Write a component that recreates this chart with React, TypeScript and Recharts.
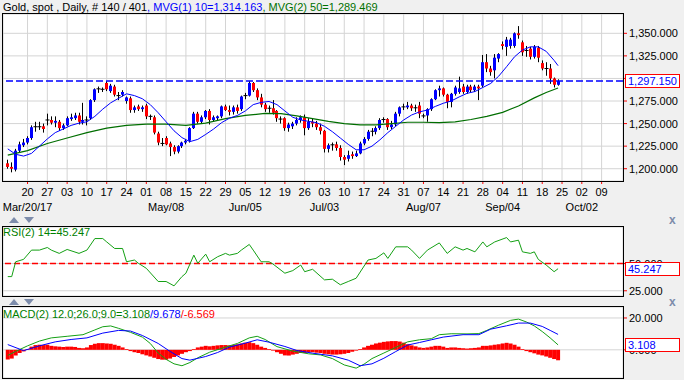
import React from 'react';
import {
  ComposedChart,
  Bar,
  Line,
  XAxis,
  YAxis,
  CartesianGrid,
  ReferenceLine,
} from 'recharts';

// bar index 0 = Mon 20 Mar 2017, one index per weekday
const FIRST_BAR = -5;

const opens = [
  1206, 1202, 1199, 1220, 1226, 1229, 1234, 1246, 1246.5, 1247,
  1253, 1254, 1251, 1252, 1245, 1248, 1255, 1256, 1259, 1252,
  1254, 1256, 1276, 1288, 1288, 1295, 1286, 1291, 1281, 1282,
  1275, 1278, 1265, 1269, 1266, 1270, 1258, 1257, 1239, 1228,
  1234, 1228, 1224, 1219, 1225, 1229, 1231, 1245, 1261, 1252,
  1257, 1264, 1254, 1256, 1258, 1269, 1265, 1263, 1268, 1266,
  1280, 1281, 1295, 1287, 1279, 1271, 1266, 1267, 1264, 1255,
  1256, 1245, 1247, 1250, 1254, 1257, 1245, 1252, 1250, 1246,
  1242, 1222, 1226, 1227, 1223, 1213, 1211, 1216, 1214, 1217,
  1228, 1233, 1241, 1241, 1245, 1254, 1255, 1246, 1249, 1261,
  1268, 1268, 1270, 1267, 1270, 1258, 1259, 1266, 1277, 1287,
  1289, 1282, 1274, 1283, 1285, 1291, 1285, 1291, 1287, 1291,
  1292, 1318, 1311, 1309, 1322, 1338, 1335, 1336, 1336, 1350,
  1340, 1330, 1333, 1324, 1334, 1317, 1311, 1311, 1300, 1293,
];
const highs = [
  1210, 1207, 1222, 1230, 1233, 1236, 1248, 1252, 1252, 1250,
  1261, 1258, 1258, 1254, 1250, 1258, 1261, 1262, 1262, 1273,
  1258, 1277, 1289, 1291, 1290, 1297, 1294, 1293, 1285, 1287,
  1280, 1280, 1270, 1271, 1270, 1272, 1260, 1259, 1241, 1234,
  1236, 1230, 1226, 1226, 1230, 1233, 1246, 1263, 1263, 1259,
  1265, 1266, 1259, 1259, 1270, 1271, 1270, 1270, 1271, 1281,
  1284, 1297, 1296, 1289, 1283, 1273, 1270, 1276, 1265, 1258,
  1257, 1251, 1252, 1257, 1259, 1260, 1256, 1256, 1253, 1250,
  1243, 1228, 1229, 1230, 1226, 1215, 1220, 1219, 1220, 1230,
  1235, 1243, 1245, 1247, 1256, 1257, 1256, 1253, 1263, 1269,
  1272, 1274, 1272, 1271, 1274, 1261, 1267, 1278, 1288, 1292,
  1290, 1283, 1284, 1292, 1302, 1294, 1293, 1293, 1293, 1293,
  1326, 1327, 1314, 1327, 1328, 1341, 1346, 1345, 1351, 1358,
  1342, 1336, 1335, 1337, 1336, 1320, 1318, 1316, 1301, 1299,
];
const lows = [
  1200, 1196, 1197, 1218, 1224, 1227, 1232, 1241, 1243, 1240,
  1248, 1249, 1246, 1242, 1243, 1247, 1253, 1254, 1249, 1249,
  1248, 1254, 1274, 1284, 1285, 1286, 1284, 1280, 1276, 1280,
  1272, 1262, 1262, 1264, 1263, 1255, 1254, 1238, 1226, 1225,
  1226, 1214, 1216, 1217, 1223, 1227, 1229, 1244, 1250, 1250,
  1255, 1249, 1252, 1253, 1256, 1264, 1259, 1260, 1261, 1264,
  1277, 1280, 1285, 1276, 1268, 1263, 1262, 1260, 1252, 1250,
  1242, 1241, 1244, 1248, 1251, 1237, 1243, 1246, 1243, 1238,
  1218, 1218, 1220, 1220, 1209, 1204, 1208, 1211, 1213, 1216,
  1226, 1231, 1236, 1238, 1243, 1251, 1243, 1244, 1247, 1258,
  1265, 1266, 1264, 1263, 1256, 1256, 1252, 1264, 1276, 1280,
  1280, 1267, 1268, 1281, 1283, 1283, 1283, 1285, 1285, 1276,
  1290, 1307, 1303, 1300, 1318, 1332, 1325, 1333, 1334, 1344,
  1325, 1324, 1321, 1322, 1318, 1309, 1303, 1294, 1290, 1292,
];
const closes = [
  1202, 1200, 1220, 1227, 1229, 1234, 1246, 1246.5, 1246, 1244,
  1254, 1251, 1253, 1245, 1248, 1256, 1257, 1259, 1252, 1254,
  1253, 1276, 1288, 1288.5, 1288, 1288, 1292, 1282, 1280.5, 1285,
  1279, 1265, 1268, 1266, 1268, 1258, 1257.5, 1240, 1229, 1227.5,
  1227, 1224, 1219, 1225, 1229, 1231, 1245, 1261, 1252, 1257,
  1264, 1254, 1257, 1258, 1269, 1265, 1263, 1268, 1264, 1280,
  1281, 1295, 1287, 1279, 1271, 1266, 1267, 1262, 1256, 1254,
  1245, 1249, 1250, 1254, 1257, 1245, 1252, 1250, 1246, 1242,
  1222, 1226, 1226.5, 1223, 1213, 1210, 1215, 1214, 1217, 1228,
  1233, 1241, 1241.5, 1245, 1254, 1254.5, 1246, 1249, 1261, 1268,
  1268.5, 1270, 1267, 1267.5, 1261, 1258.5, 1266, 1277, 1287, 1289,
  1282, 1274, 1283, 1290, 1289, 1285, 1291, 1287, 1291, 1289,
  1318, 1311, 1307, 1323, 1327, 1336, 1343, 1343, 1350, 1348,
  1329, 1331, 1324, 1335, 1323, 1311, 1310, 1300, 1293, 1297.15,
];

const ma10Bars = [
  -5, -3, -1, 1, 3, 5, 7, 9, 11, 13, 15, 17, 19, 21, 23, 25, 27, 29, 31, 33,
  35, 37, 39, 41, 43, 45, 47, 49, 51, 53, 55, 57, 59, 61, 63, 65, 67, 69, 71, 73,
  75, 77, 79, 81, 83, 85, 87, 89, 91, 93, 95, 97, 99, 101, 103, 105, 107, 109, 111, 113,
  115, 117, 119, 121, 123, 125, 127, 129, 131, 133, 134,
];
const ma10Values = [
  1222, 1216, 1214, 1217, 1225, 1233, 1240, 1244, 1248, 1250.5, 1252, 1258, 1266, 1273, 1278, 1283, 1281, 1277.5, 1271, 1262,
  1252, 1242, 1234.5, 1230, 1232.5, 1238, 1244, 1251, 1256, 1259, 1264, 1271, 1273.5, 1274.5, 1271, 1264, 1257, 1254, 1252.5, 1251,
  1247, 1241, 1234, 1227, 1221, 1221, 1225, 1232, 1240, 1247, 1254, 1259.5, 1263, 1265, 1269, 1272.5, 1275, 1279.5, 1283.5, 1285.5,
  1290, 1294.5, 1302.5, 1313, 1324, 1331.5, 1335, 1335, 1330, 1320, 1314.163,
];
const ma50Bars = [
  -5, 0, 5, 10, 15, 20, 25, 30, 35, 40, 45, 50, 55, 60, 64, 68, 72, 76, 80, 84,
  88, 92, 96, 100, 104, 108, 112, 116, 120, 124, 128, 131, 134,
];
const ma50Values = [
  1215, 1220, 1228, 1234, 1240, 1245, 1248, 1249.5, 1249.5, 1248, 1250.5, 1255.5, 1259, 1261.3, 1261, 1258.5, 1255.5, 1252.5, 1250, 1248.5,
  1248.5, 1250, 1251.5, 1251.5, 1251, 1252, 1254.5, 1258, 1262.5, 1269.5, 1278.5, 1284.5, 1289.469,
];

const rsiBars = [
  -5, -4, -3, -1, 1, 3, 5, 6, 8, 10, 13, 15, 17, 19, 20, 22, 24, 25, 27, 28,
  30, 33, 35, 37, 39, 40, 42, 43, 45, 46, 48, 50, 51, 53, 54, 56, 57, 59, 61, 62,
  65, 67, 69, 70, 72, 75, 77, 79, 81, 83, 86, 88, 90, 91, 93, 96, 97, 99, 101, 104,
  106, 108, 110, 111, 113, 115, 116, 118, 121, 122, 124, 125, 127, 128, 129, 131, 133, 134,
];
const rsiValues = [
  38, 38, 51.6, 53.8, 62.3, 62.3, 64.7, 62.3, 59.3, 62.9, 59.3, 62.3, 72.9, 72.9, 69.8, 63.8, 63.8, 51.6, 53.2, 50.2,
  45.6, 33.5, 33.5, 29.5, 38, 41.1, 57.7, 50.2, 58.6, 51.6, 56.2, 59.3, 57.7, 59.3, 62.3, 67.5, 62.3, 51.6, 51.6, 49.5,
  41.1, 43.5, 48.6, 42.5, 44.7, 35, 35.6, 30.5, 33.5, 36.5, 53.2, 54.7, 59.8, 54.7, 65.3, 65.3, 62.3, 54.7, 62.3, 68.9,
  59.3, 65.3, 62.3, 63.8, 60.7, 69.8, 65.3, 69.8, 73.8, 69.8, 71.4, 60.7, 59.3, 60.7, 53.8, 48.6, 42.5, 45.247,
];

const macdBars = [
  -5, -3, 0, 3, 6, 10, 14, 17, 19, 21, 23, 26, 29, 31, 33, 35, 37, 39, 41, 43,
  46, 50, 53, 56, 58, 60, 63, 67, 71, 74, 77, 80, 83, 85, 87, 90, 93, 96, 99, 102,
  104, 107, 111, 114, 116, 119, 122, 124, 126, 128, 130, 132, 134,
];
const macdValues = [
  -3.5, -1, 2.5, 5.5, 7.5, 8.5, 9.5, 12.5, 14.5, 15, 13.5, 11, 8, 4, -2, -6, -8.8, -10, -8, -5,
  -1.5, 1.7, 4, 7.5, 8.5, 6.5, 2, -0.8, -2.5, -3.2, -5.5, -9.5, -11.5, -9, -5.5, -2, 1.5, 5, 6.3, 7,
  9.5, 10.1, 10, 10.2, 12.2, 15.5, 18.5, 19.3, 17.5, 15, 11.5, 7.5, 3.108,
];
const signalBars = [
  -5, -1, 3, 7, 11, 15, 19, 23, 26, 29, 33, 36, 39, 41, 45, 48, 51, 55, 58, 61,
  65, 68, 72, 77, 81, 84, 87, 90, 93, 96, 99, 102, 105, 110, 114, 117, 121, 124, 127, 130,
  132, 134,
];
const signalValues = [
  3.3, -0.5, 2.5, 5, 6.5, 7.5, 10.5, 12.2, 11.8, 9, 4, -1, -5.5, -6.5, -4.2, -1.7, 1.7, 4.2, 6.3, 4.8,
  2.1, -0.4, -2.1, -3.8, -6.5, -10, -8.8, -5.3, -1.1, 3, 4.6, 6.3, 8, 9.5, 9.5, 13, 15.1, 16.8, 16.8, 14.7,
  12.2, 9.678,
];
const histValues = [
  -6.1, -5.5, -3.5, -2, -1, 0.5, 2, 3, 3.2, 3,
  3.2, 2.5, 2.2, 2, 1.8, 2, 2, 1.8, 1.2, 1,
  1.5, 3, 3.8, 4.2, 4.2, 4, 3.8, 3.2, 2.5, 1.5,
  0.5, -0.8, -1.5, -2, -2.8, -3.5, -4.2, -5, -5.8, -6.2,
  -6.2, -5.5, -4.5, -3.5, -2.5, -1.5, -0.8, 0.5, 1.5, 2,
  2.5, 2.2, 2.5, 2.8, 3, 3, 2.8, 3, 3.5, 4,
  4.5, 4.8, 4.2, 3.2, 2, 1.2, 0.5, -0.5, -1.5, -2.5,
  -3.5, -3.6, -3, -2.5, -2, -2, -1.5, -1.5, -1.8, -2,
  -2.5, -2.8, -3, -3, -2.8, -2.5, -2, -1.2, -0.5, 0.5,
  1.5, 2.5, 3.2, 4, 4.5, 5, 5.3, 5.5, 5.5, 5.2,
  4.5, 3.5, 2.8, 2.2, 1.5, 1.2, 1.5, 2, 2.5, 2.5,
  2, 1.2, 1.5, 1.5, 1.2, 1, 0.8, 1, 1.2, 1.5,
  2.5, 2.5, 2.8, 3.2, 3.5, 4, 4.4, 4, 3.2, 2,
  0.5, -0.8, -1.5, -2.2, -3, -3.5, -4.2, -5, -5.8, -6.569,
];

const weekTicks = [
  0, 5, 10, 15, 20, 25, 30, 35, 40, 45, 50, 55, 60, 65, 70,
  75, 80, 85, 90, 95, 100, 105, 110, 115, 120, 125, 130, 135, 140, 145,
];
const dayLabels = [
  '20', '27', '03', '10', '17', '24', '01', '08', '15', '22', '29', '05', '12', '19', '26',
  '03', '10', '17', '24', '31', '07', '14', '21', '28', '04', '11', '18', '25', '02', '09',
];
const monthLabels: Record<number, string> = {
  0: 'Mar/20/17', 35: 'May/08', 55: 'Jun/05', 75: 'Jul/03', 100: 'Aug/07', 120: 'Sep/04', 140: 'Oct/02',
};
const priceTicks = [1200, 1225, 1250, 1275, 1300, 1325, 1350];
const rsiTicks = [25, 50];
const macdTicks = [0, 20];

const PRICE_DOMAIN = [1186.4, 1371.4];
const RSI_DOMAIN = [20.2, 83.5];
const MACD_DOMAIN = [-17.7, 26.9];
const X_DOMAIN = [-6.2, 150.4];

const candles = opens.map((o, k) => ({
  i: FIRST_BAR + k,
  open: o,
  high: highs[k],
  low: lows[k],
  close: closes[k],
  hist: histValues[k],
}));
const pairUp = (bars: number[], vals: number[]) => bars.map((i, k) => ({ i, v: vals[k] }));
const ma10 = pairUp(ma10Bars, ma10Values);
const ma50 = pairUp(ma50Bars, ma50Values);
const rsi = pairUp(rsiBars, rsiValues);
const macd = pairUp(macdBars, macdValues);
const signal = pairUp(signalBars, signalValues);

const lastClose = closes[closes.length - 1];
const lastRsi = rsiValues[rsiValues.length - 1];
const lastMacd = macdValues[macdValues.length - 1];

const FONT = '"Liberation Sans", Arial, sans-serif';
const fmt3 = (v: number) =>
  v.toLocaleString('en-US', { minimumFractionDigits: 3, maximumFractionDigits: 3 });

const Candle = (props: any) => {
  const { x, y, width, height, payload } = props;
  const { open, close, high, low } = payload;
  const cx = Math.round(x + width / 2) + 0.5;
  const k = high > low ? height / (high - low) : 0;
  const py = (v: number) => y + (high - v) * k;
  const top = py(Math.max(open, close));
  const bot = py(Math.min(open, close));
  const color = close > open ? '#0000ff' : '#ff0000';
  return (
    <g>
      <line x1={cx} x2={cx} y1={y} y2={y + height} stroke="#000" strokeWidth={1} />
      {bot - top < 1 ? (
        <line x1={cx - 2} x2={cx + 2} y1={top} y2={top} stroke="#000" strokeWidth={1} />
      ) : (
        <rect x={cx - 1.5} y={top} width={3} height={bot - top} fill={color} />
      )}
    </g>
  );
};

const ValueTick = (props: any) => {
  const { x, y, payload } = props;
  return (
    <g>
      <line x1={x} x2={x + 4} y1={y} y2={y} stroke="#ff0000" />
      <text x={x + 6} y={y + 4} fontSize={11} fontFamily={FONT} fill="#000">
        {fmt3(payload.value)}
      </text>
    </g>
  );
};

const DayTick = (props: any) => {
  const { x, y, payload, index } = props;
  const month = monthLabels[payload.value];
  return (
    <g>
      <line x1={x} x2={x} y1={y} y2={y + 3} stroke="#ff0000" />
      <text x={x} y={y + 15} textAnchor="middle" fontSize={11} fontFamily={FONT} fill="#000">
        {dayLabels[index]}
      </text>
      {month && (
        <text x={x} y={y + 30} textAnchor="middle" fontSize={11} fontFamily={FONT} fill="#000">
          {month}
        </text>
      )}
    </g>
  );
};

const ValueTag = (props: any) => {
  const { viewBox, text } = props;
  const x = viewBox.x + viewBox.width + 2;
  const y = viewBox.y;
  return (
    <g>
      <rect x={x + 0.5} y={Math.round(y) - 6.5} width={54} height={13} fill="#fff" stroke="#ff0000" />
      <text x={x + 3} y={y + 4} fontSize={11} fontFamily={FONT} fill="#0000ff">
        {text}
      </text>
    </g>
  );
};

const hiddenX = (
  <XAxis
    type="number"
    dataKey="i"
    domain={X_DOMAIN}
    allowDataOverflow
    ticks={weekTicks}
    interval={0}
    height={0}
    tick={false}
    tickLine={false}
    axisLine={false}
  />
);

const rightAxis = (domain: number[], ticks: number[] | undefined) => (
  <YAxis
    orientation="right"
    width={61}
    domain={domain}
    allowDataOverflow
    ticks={ticks}
    interval={0}
    tickSize={0}
    tickMargin={0}
    tickLine={false}
    axisLine={false}
    tick={ticks ? <ValueTick /> : false}
  />
);

// transparent layer on top of a panel that only carries the last-value tag
const TagLayer = ({ top, height, extraTop, domain, value }: any) => (
  <div style={{ position: 'absolute', left: 0, top }}>
    <ComposedChart width={684} height={height} data={candles} margin={{ top: extraTop, right: 0, bottom: 0, left: 3 }}>
      {hiddenX}
      {rightAxis(domain, undefined)}
      <ReferenceLine y={value} stroke="none" label={<ValueTag text={fmt3(value)} />} />
    </ComposedChart>
  </div>
);

const Separator = ({ y }: { y: number }) => (
  <g fill="#7d8cab">
    <polygon points={`9,${y + 3} 19,${y + 3} 14,${y - 3}`} />
    <polygon points={`24,${y - 3} 34,${y - 3} 29,${y + 3}`} />
    <text x={669} y={y + 4} fontSize={12} fontWeight="bold" fontFamily={FONT}>x</text>
  </g>
);

export default function App() {
  return (
    <div
      style={{
        position: 'absolute',
        left: 0,
        top: 0,
        width: 684,
        height: 380,
        background: '#f0f0f0',
        overflow: 'hidden',
      }}
    >
      <div style={{ position: 'absolute', left: 0, top: 0 }}>
        <ComposedChart width={684} height={215} data={candles} margin={{ top: 14, right: 0, bottom: 0, left: 3 }}>
          <CartesianGrid stroke="#d4d4d4" fill="#ffffff" />
          <XAxis
            type="number"
            dataKey="i"
            domain={X_DOMAIN}
            allowDataOverflow
            ticks={weekTicks}
            interval={0}
            height={34}
            tickSize={0}
            tickMargin={0}
            tickLine={false}
            axisLine={false}
            tick={<DayTick />}
          />
          {rightAxis(PRICE_DOMAIN, priceTicks)}
          <Bar
            dataKey={(d: any) => [d.low, d.high]}
            barSize={3}
            shape={<Candle />}
            isAnimationActive={false}
          />
          <Line data={ma50} dataKey="v" stroke="#006e00" strokeWidth={1.2} dot={false} isAnimationActive={false} />
          <Line data={ma10} dataKey="v" stroke="#0000ff" strokeWidth={1} dot={false} isAnimationActive={false} />
          <ReferenceLine y={lastClose} stroke="#0000ff" strokeWidth={1.5} strokeDasharray="7 3" />
        </ComposedChart>
      </div>

      <div style={{ position: 'absolute', left: 0, top: 227 }}>
        <ComposedChart width={684} height={69} data={rsi} margin={{ top: 0, right: 0, bottom: 0, left: 3 }}>
          <CartesianGrid stroke="#d4d4d4" fill="#ffffff" />
          {hiddenX}
          {rightAxis(RSI_DOMAIN, rsiTicks)}
          <ReferenceLine y={50} stroke="#ff0000" strokeWidth={1.5} strokeDasharray="6 3" />
          <Line dataKey="v" stroke="#14a014" strokeWidth={1} dot={false} isAnimationActive={false} />
        </ComposedChart>
      </div>

      <div style={{ position: 'absolute', left: 0, top: 307 }}>
        <ComposedChart
          width={684}
          height={71}
          data={candles}
          barCategoryGap={0}
          margin={{ top: 0, right: 0, bottom: 0, left: 3 }}
        >
          <CartesianGrid stroke="#d4d4d4" fill="#ffffff" />
          {hiddenX}
          {rightAxis(MACD_DOMAIN, macdTicks)}
          <Bar dataKey="hist" fill="#ff0000" isAnimationActive={false} />
          <Line data={macd} dataKey="v" stroke="#14a014" strokeWidth={1} dot={false} isAnimationActive={false} />
          <Line data={signal} dataKey="v" stroke="#0000ff" strokeWidth={1} dot={false} isAnimationActive={false} />
        </ComposedChart>
      </div>

      <TagLayer top={0} height={181} extraTop={14} domain={PRICE_DOMAIN} value={lastClose} />
      <TagLayer top={227} height={69} extraTop={0} domain={RSI_DOMAIN} value={lastRsi} />
      <TagLayer top={307} height={71} extraTop={0} domain={MACD_DOMAIN} value={lastMacd} />

      <svg
        width={684}
        height={380}
        style={{ position: 'absolute', left: 0, top: 0, pointerEvents: 'none' }}
      >
        <text x={3} y={11} fontSize={11} fontFamily={FONT}>
          <tspan fill="#000">Gold, spot , Daily, # 140 / 401</tspan>
          <tspan fill="#0000ff">, MVG(1) 10=1,314.163</tspan>
          <tspan fill="#007000">, MVG(2) 50=1,289.469</tspan>
        </text>
        <rect x={2.5} y={13.5} width={621} height={168} fill="none" stroke="#000" />
        <rect x={2.5} y={226.5} width={621} height={70} fill="none" stroke="#000" />
        <rect x={2.5} y={306.5} width={621} height={72} fill="none" stroke="#000" />
        <Separator y={220} />
        <Separator y={302} />
        <text x={3} y={236} fontSize={11} fontFamily={FONT} fill="#008000">RSI(2) 14=45.247</text>
        <text x={3} y={318} fontSize={11} fontFamily={FONT}>
          <tspan fill="#008000">MACD(2) 12.0;26.0;9.0=3.108</tspan>
          <tspan fill="#0000ff">/9.678</tspan>
          <tspan fill="#ff0000">/-6.569</tspan>
        </text>
      </svg>
    </div>
  );
}
